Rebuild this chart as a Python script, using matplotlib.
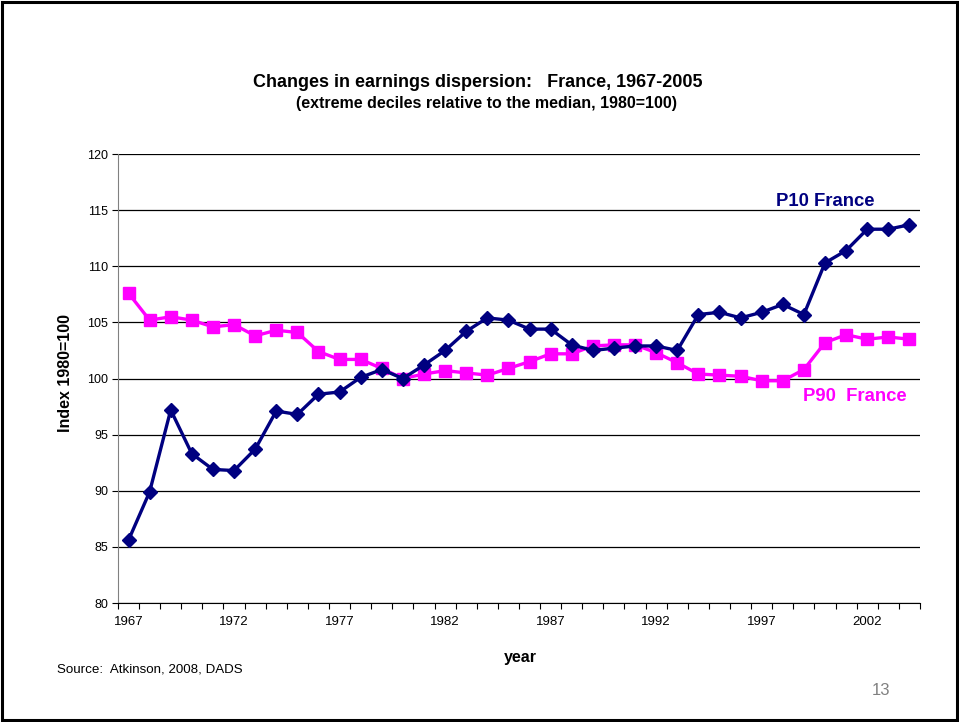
import matplotlib.pyplot as plt
from matplotlib.patches import Rectangle

plt.rcParams['font.family'] = ['Liberation Sans', 'DejaVu Sans']

# data (index, 1980=100)
years = list(range(1967, 2005))
p10 = [85.6, 89.9, 97.2, 93.3, 91.9, 91.8, 93.7, 97.1, 96.8, 98.6,
       98.8, 100.1, 100.8, 100.0, 101.2, 102.5, 104.2, 105.4, 105.2, 104.4,
       104.4, 103.0, 102.5, 102.7, 102.9, 102.9, 102.5, 105.7, 105.9, 105.4,
       105.9, 106.6, 105.7, 110.3, 111.4, 113.3, 113.3, 113.7]
p90 = [107.6, 105.2, 105.5, 105.2, 104.6, 104.8, 103.8, 104.3, 104.1, 102.4,
       101.7, 101.7, 100.9, 100.0, 100.4, 100.7, 100.5, 100.3, 100.9, 101.5,
       102.2, 102.2, 102.9, 103.0, 103.0, 102.3, 101.4, 100.4, 100.3, 100.2,
       99.8, 99.8, 100.8, 103.2, 103.9, 103.5, 103.7, 103.5]
yticks = list(range(80, 121, 5))

fig = plt.figure(figsize=(9.59, 7.22), dpi=100)
ax = fig.add_axes([0.123, 0.1648, 0.8363, 0.6219])

x = list(range(len(years)))
ax.plot(x, p90, color='#FF00FF', lw=2.4, marker='s', ms=9, mec='#FF00FF', zorder=3)
ax.plot(x, p10, color='#000080', lw=2.4, marker='D', ms=7, mec='#000080', zorder=4)

ax.set_xlim(-0.5, len(years) - 0.5)
ax.set_ylim(80, 120)
ax.set_yticks(yticks)
ax.set_yticklabels([str(v) for v in yticks], fontsize=9)
ax.yaxis.grid(True, color='black', lw=0.9)
ax.set_axisbelow(True)

ax.set_xticks(x[::5])
ax.set_xticklabels([str(y) for y in years[::5]], fontsize=9.5)
ax.set_xticks([i - 0.5 for i in range(len(years) + 1)], minor=True)
ax.tick_params(axis='x', which='major', length=0, pad=9)
ax.tick_params(axis='x', which='minor', length=4, width=0.8, direction='out')
ax.tick_params(axis='y', length=4, width=0.8, direction='out', pad=3)

for s in ['top', 'right']:
    ax.spines[s].set_visible(False)
ax.spines['left'].set_color('#808080')
ax.spines['bottom'].set_color('black')

ax.set_ylabel('Index 1980=100', fontsize=11.5, fontweight='bold')
ax.yaxis.set_label_coords(-0.056, 0.512)
ax.set_xlabel('year', fontsize=11.5, fontweight='bold')
ax.xaxis.set_label_coords(0.502, -0.105)

ax.text(33.0, 115.8, 'P10 France', color='#000080', fontsize=13.3,
        fontweight='bold', ha='center', va='center')
ax.text(34.4, 98.4, 'P90  France', color='#FF00FF', fontsize=13.3,
        fontweight='bold', ha='center', va='center')

fig.text(0.498, 0.886, 'Changes in earnings dispersion:   France, 1967-2005',
         fontsize=13, fontweight='bold', ha='center', va='center')
fig.text(0.507, 0.856, '(extreme deciles relative to the median, 1980=100)',
         fontsize=11.5, fontweight='bold', ha='center', va='center')
fig.text(0.059, 0.073, 'Source:  Atkinson, 2008, DADS', fontsize=9.6,
         ha='left', va='center')
fig.text(0.919, 0.044, '13', fontsize=12, color='#808080', ha='center', va='center')

fig.patches.append(Rectangle((0.002, 0.003), 0.996, 0.994, transform=fig.transFigure,
                             fill=False, ec='black', lw=2.2))

fig.savefig('out.png', dpi=100)
